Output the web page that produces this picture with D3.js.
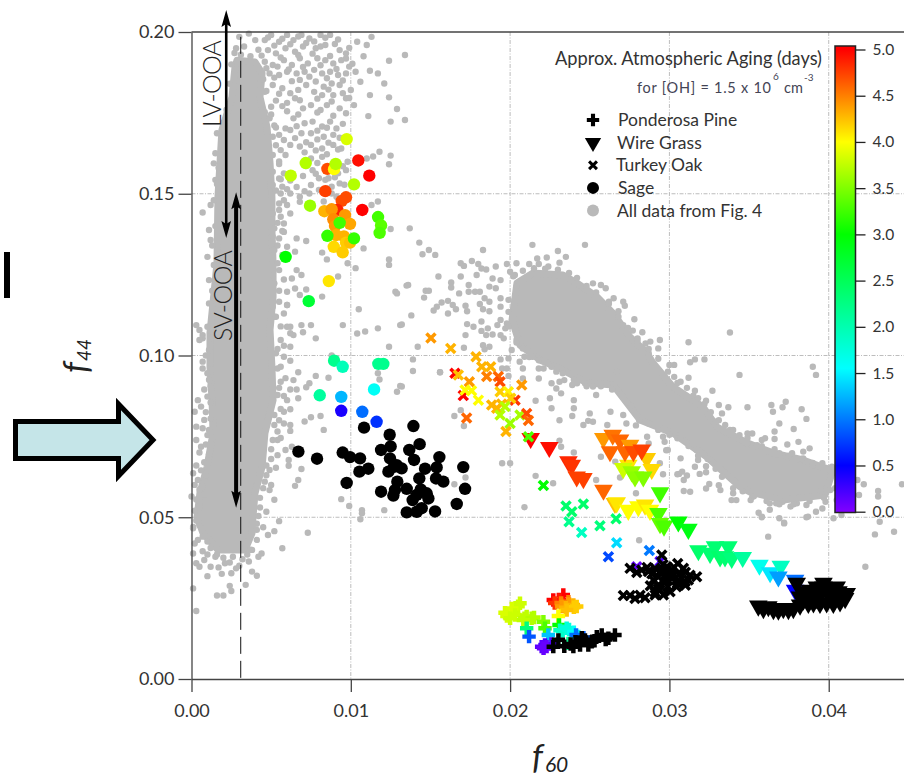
<!DOCTYPE html>
<html>
<head>
<meta charset="utf-8">
<script src="https://cdn.jsdelivr.net/npm/d3@7"></script>
<style>
  body { margin: 0; background: #fff; }
  svg { display: block; }
  text { font-family: Lato, "Open Sans", sans-serif; fill: #333; }
</style>
</head>
<body>
<div id="chart"></div>
<script>
// [f60, f44, age in days]
const sageAged = [
  [.00974,.1669,3.85],[.01047,.1603,4.95],[.01116,.1556,5],[.00717,.1595,3.7],[.00623,.1556,3.75],[.00853,.1577,4.7],
  [.00895,.1576,4],[.00905,.1592,3.7],[.0102,.1529,3.7],[.0084,.1508,4.75],[.0097,.1489,4.7],[.00943,.1478,4.7],
  [.00915,.145,4.85],[.01072,.145,5],[.00834,.1446,4.3],[.00744,.1463,3.6],[.0088,.1452,4.4],[.00964,.1434,4.4],
  [.0089,.1421,4.45],[.00995,.1407,4.35],[.00901,.14,4.4],[.00907,.1372,4.3],[.00957,.1368,4.3],[.00893,.1336,4.15],
  [.0097,.1349,4.2],[.00995,.1349,4.25],[.00949,.1319,4.2],[.0093,.141,3.25],[.01171,.1428,3.25],[.0119,.1402,3.35],
  [.01181,.1379,3.3],[.00853,.137,3.2],[.0102,.1362,3.2],[.00862,.123,4.1],[.00591,.1305,3],[.00736,.1168,2.7],
  [.00895,.0984,2.2],[.00949,.0965,1.95],[.01173,.0974,2.2],[.01204,.0974,2.2],[.01146,.0895,1.6],[.00805,.0877,2.1],
  [.0094,.0872,1.25],[.0094,.0829,.4],[.01072,.0826,.95],[.01162,.0795,.7]
];
const sageFresh = [
  [.01083,.0777],[.01393,.0782],[.01244,.0755],[.0125,.0719],[.0119,.0708],[.01432,.0726],[.01367,.0708],[.00949,.07],
  [.00671,.0703],[.00788,.0681],[.00995,.0686],[.01058,.0682],[.01556,.0686],[.01397,.0677],[.01246,.0682],[.01271,.0656],
  [.01319,.0651],[.01236,.0641],[.0111,.065],[.01054,.0641],[.01466,.065],[.01539,.0654],[.01706,.0655],[.01535,.062],
  [.01581,.061],[.0143,.062],[.01292,.061],[.00974,.0606],[.0119,.0579],[.01277,.0584],[.01267,.0567],[.01351,.0588],
  [.01439,.0586],[.01717,.0588],[.01414,.0569],[.01487,.0558],[.01388,.0553],[.01665,.0541],[.01445,.0528],[.01351,.0515],
  [.01414,.0517],[.01529,.0518],[.01476,.0574],[.01288,.0661]
];
const oakAged = [
  [.01503,.1054,4.4],[.01627,.1022,4.3],[.01786,.0996,4.3],[.01822,.0965,4.3],[.01878,.0965,4.3],[.01853,.0935,4.5],
  [.01926,.0935,4.6],[.01937,.0919,4.7],[.01654,.0945,5],[.01675,.094,4.25],[.01744,.0919,4.4],[.01706,.0876,5],
  [.01717,.0893,4],[.01758,.0891,4],[.01801,.0862,4],[.02073,.0909,4.4],[.01937,.0888,4.2],[.01989,.0888,4.05],
  [.02031,.0862,4.8],[.02004,.0868,4.2],[.01884,.0847,4.3],[.01947,.085,4.3],[.01916,.0837,4.3],[.01968,.0842,3.7],
  [.01937,.0816,3.7],[.02062,.0816,3.65],[.02,.079,3.6],[.02104,.0821,4.7],[.02115,.0799,4.6],[.01727,.0807,4.6],
  [.01974,.0765,4.3],[.02209,.0598,3],[.02351,.0535,2.4],[.0246,.0541,2.4],[.02387,.0517,2.4],[.0237,.0486,2.2],
  [.02449,.0453,1.9],[.02564,.0474,2.3],[.02665,.0495,2.4],[.02669,.0421,1.4],[.02617,.0378,.8],[.02874,.0397,1],
  [.02795,.0347,.1],[.02941,.0363,.2],[.02115,.0749,3.3]
];
const oakFresh = [
  [.02711,.0258],[.02753,.0258],[.02784,.0249],[.02816,.0259],[.02847,.0251],[.02753,.0342],[.02795,.0329],[.02826,.0337],
  [.02868,.0332],[.0291,.0342],[.02952,.0383],[.02941,.0332],[.02983,.0347],[.03014,.0337],[.03052,.0357],[.03088,.0342],
  [.0313,.0321],[.03171,.0316],[.03098,.0301],[.03056,.0306],[.03014,.0311],[.02973,.0301],[.02931,.0291],[.0291,.026],
  [.02962,.026],[.03004,.027],[.03045,.0285],[.03119,.0306],[.02983,.0321],[.02899,.0306],[.02941,.0275],
  [.0286,.0345],[.0289,.0325],[.0298,.0335],[.0302,.0325],[.0306,.0322],[.031,.033],[.0298,.031],[.0293,.0315],
  [.0305,.0296],[.0293,.0278],[.0299,.0285],[.031,.029],[.0288,.0288],[.0303,.0345],[.0296,.0354],[.0291,.0268]
];
const grassAged = [
  [.02129,.0744,5],[.02246,.0716,4.95],[.02366,.0672,4.85],[.02387,.0661,4.8],[.02418,.0625,4.75],[.0246,.062,4.75],
  [.02586,.0584,4.6],[.02658,.0543,4.25],[.02669,.0545,4.1],[.02742,.0522,4],[.02805,.0533,4],[.02847,.0538,4.1],
  [.02878,.0522,4],[.02585,.0744,4.4],[.02644,.0754,4.55],[.0269,.0739,4.6],[.02753,.0723,4.4],[.02627,.0703,4.6],
  [.02858,.0682,4.2],[.02889,.0648,4.15],[.02742,.0661,4.1],[.0271,.0651,3.8],[.02763,.0641,3.6],[.02784,.0625,3.55],
  [.02836,.0625,3.5],[.02721,.0703,4.6],[.02774,.0703,4.7],[.02826,.0708,4.75],
  [.02941,.0576,3.25],[.02931,.0512,3.3],[.02941,.0481,3.4],[.02966,.0473,3.3],[.03056,.0486,3],[.03119,.0463,2.9],
  [.03182,.0397,2.4],[.03255,.0389,2.35],[.03286,.0409,2.35],[.03318,.0378,2.4],[.0337,.0409,2.35],[.03349,.0378,2.35],
  [.03391,.0373,2.3],[.0346,.0376,2.1],[.03565,.0352,1.65],[.03632,.0329,1.45],[.03699,.0349,1.9],[.03684,.0316,1.15],
  [.03789,.0306,.95],[.03789,.0275,.5]
];
const grassFresh = [
  [.03558,.0226],[.0359,.0218],[.03621,.0224],[.03653,.0215],[.03684,.0213],[.03715,.0218],[.03747,.0215],[.03778,.0218],
  [.0382,.0229],[.03841,.0244],[.03872,.0234],[.03904,.0236],[.03945,.0234],[.03987,.0236],[.04029,.0234],[.04071,.0239],
  [.04113,.0265],[.04103,.0249],[.04061,.027],[.04008,.0275],[.03967,.0285],[.03925,.0285],[.03883,.0275],[.03841,.027],
  [.03799,.0296],[.0382,.0254],[.03945,.026],[.04008,.0255],[.0405,.0285],[.03872,.0254],[.03904,.027],[.03967,.0296],[.03925,.0249]
];
const pineAged = [
  [.02271,.0244,5],[.02334,.026,5],[.0231,.0244,4.9],[.0228,.0235,4.8],[.0232,.0235,4.5],[.02366,.0239,4.5],[.0237,.0232,4.4],
  [.02324,.0224,4.4],[.0235,.022,4.3],[.02397,.0229,4.3],[.024,.0222,4.2],[.02418,.0224,4.2],[.02355,.0213,4.25],[.02303,.0195,4],
  [.02062,.0234,3.8],[.0205,.0225,3.8],[.0201,.0218,3.85],[.01968,.0205,3.85],[.0198,.0195,3.85],[.02,.0188,3.8],[.02031,.0198,3.8],
  [.0209,.0188,3.75],[.0215,.019,3.7],[.02104,.0193,3.75],[.02135,.0188,3.7],[.02083,.0182,3.75],[.02209,.0177,3.5],
  [.02219,.0157,3.3],[.02307,.0167,3],[.02104,.0157,2.3],[.02313,.0151,1.9],[.0233,.0148,1.85],[.02355,.0157,1.75],[.0237,.0153,1.75],
  [.024,.0145,1.6],[.0246,.0128,.9],[.02119,.0131,.85],[.02414,.0136,.95],[.0224,.0136,1.3],[.02366,.011,2.2],
  [.02219,.0105,.25],[.0226,.0108,.2],[.02198,.01,.15],[.02229,.01,.1],[.0221,.0095,.1]
];
const pineFresh = [
  [.02271,.01],[.02303,.0121],[.02397,.01],[.02439,.0105],[.0247,.0121],[.02512,.0115],[.02544,.0131],[.02575,.0136],
  [.02617,.0126],[.02658,.0136],[.02491,.0105],[.0241,.0115],[.0253,.0118],[.026,.0122],[.0245,.0128],[.0238,.0108],[.0234,.0101]
];

// solid grey masses where the dots of fig. 4 overlap completely
const denseLeft = [
  [.00286,.1913],[.00399,.1907],[.00443,.1873],[.0043,.1799],[.00474,.1706],[.00493,.1595],[.00505,.149],[.00505,.1388],
  [.00512,.1286],[.00512,.1181],[.00493,.1079],[.00505,.0964],[.00512,.0862],[.00461,.076],[.00443,.0655],[.00399,.0575],
  [.00386,.0501],[.0038,.0451],[.00336,.0399],[.00166,.0399],[.00072,.0451],[.00035,.0501],[.00053,.0575],[.00097,.0655],
  [.00135,.076],[.00129,.0862],[.00116,.0964],[.00116,.107],[.0016,.1286],[.00166,.149],[.00191,.1697],[.00254,.1799],[.00273,.1892]
];
const denseRight = [
  [.02043,.1224],[.02144,.1255],[.02332,.1249],[.0242,.1224],[.02546,.1181],[.02646,.1131],[.02753,.1057],[.02859,.1008],
  [.02897,.0977],[.03023,.0903],[.03211,.0841],[.03299,.0779],[.03487,.073],[.0365,.0699],[.03839,.0677],[.03958,.0655],
  [.04027,.0646],[.03977,.0569],[.03714,.0553],[.03507,.0578],[.03444,.0594],[.03236,.0686],[.03023,.076],[.02815,.0801],
  [.02646,.0909],[.02483,.0915],[.02332,.0955],[.02188,.0986],[.02062,.1032],[.02012,.111]
];
const greyUpper = [
  [.003,.1985],[.0036,.1995],[.004,.1975],[.0033,.1955],[.0042,.1945],[.0037,.1925],[.0027,.1935],
  [.0046,.1975],[.005,.1991],[.0055,.197],[.006,.1991],[.0064,.1975],[.0069,.1991],[.0074,.198],[.0081,.1991],[.0087,.1991],
  [.0048,.1944],[.0053,.1934],[.0059,.195],[.0065,.1939],[.007,.1955],[.0078,.195],[.0084,.196],[.0093,.1944],[.0097,.1934],
  [.0104,.197],[.011,.196],[.0113,.1985],[.0046,.1908],[.0051,.1898],[.0058,.1913],[.0063,.1898],[.0068,.1919],[.0073,.1903],
  [.0079,.1919],[.0084,.1913],[.0089,.1903],[.0094,.1913],[.0099,.1893],[.0124,.1911],[.0134,.1929],[.0112,.188],[.0117,.1872],
  [.0121,.1841],[.0049,.1872],[.0055,.1867],[.006,.1877],[.0066,.1872],[.0071,.1877],[.0077,.1883],[.0082,.1872],[.0087,.1877],
  [.0092,.1867],[.0097,.1872],[.0103,.1877],[.0051,.1836],[.0057,.1826],[.0062,.1811],[.0072,.1836],[.0078,.1847],[.0083,.1831],
  [.0088,.1841],[.0093,.1836],[.01,.1821],[.0068,.1852],[.0082,.1805],[.0089,.1805],[.0097,.1795],[.0102,.1774],[.0112,.1805],
  [.0124,.1798],[.0129,.1762],[.005,.1769],[.0057,.1771],[.0065,.1795],[.007,.1764],[.0075,.1774],[.0081,.1759],[.0085,.1774],
  [.0093,.1764],[.0111,.174],[.0125,.1723],[.0134,.1728],[.0064,.1733],[.0071,.1718],[.0076,.1723],[.0082,.1708],[.0087,.1723],
  [.0091,.1702],[.0049,.1733],[.0062,.1697],[.0069,.1687],[.0075,.1687],[.0083,.1676],[.0089,.1682],[.0051,.1676],[.0055,.1682],
  [.0062,.1651],[.0068,.1646],[.0075,.1651],[.0082,.164],[.0089,.1651],[.0094,.164],[.0051,.162],[.0059,.162],[.0075,.1609],
  [.0082,.1614],[.011,.1609],[.0114,.1615],[.0118,.163],[.0125,.1618],[.0124,.1591],[.0098,.1599],[.0076,.1573],[.0086,.1548],
  [.0092,.1563],[.0097,.1573],[.0051,.1568],[.0058,.1563],[.0051,.1527],[.0057,.1522],[.0075,.1527],[.008,.1548],[.0088,.1522],
  [.0093,.1532],[.0056,.1501],[.0062,.1501],[.0068,.1491],[.0074,.1501],[.008,.1512],[.0088,.1501],[.0091,.1491],[.0055,.147],
  [.006,.1465],[.0068,.1475],[.0083,.1476],[.0117,.1476],[.0113,.1465],[.0051,.1439],[.0056,.1429],[.0052,.1393],[.0058,.1408],
  [.0051,.1367],[.0055,.1362],[.0066,.1362],[.0072,.1354],[.0125,.1391],[.0137,.1393],[.0052,.1326],[.0057,.1311],[.0065,.1321],
  [.0085,.1297],[.0082,.1318],[.0108,.1331],[.0124,.1297],[.0124,.128],[.0098,.1285],[.0103,.127],[.0051,.1249],[.0055,.1264],
  [.0066,.1264],[.0063,.1238],[.0069,.1249],[.0092,.1244],[.006,.1197],[.0065,.1207],[.0068,.1187],[.0072,.1204],[.0082,.1182],
  [.0128,.1197],[.0129,.1192],[.0135,.1216],[.0052,.1223],[.0055,.1166],[.006,.1156],[.0105,.1143],[.0051,.1151],[.0052,.112],
  [.0062,.1089],[.0069,.1094],[.0075,.1094],[.0078,.1053],[.0095,.1094],[.0104,.1068],[.0109,.1074],[.0117,.1084],[.0131,.1094],[.0124,.1027],
  [.0003,.1094],[.0007,.1063],[.0012,.1465],[.0007,.1442],[.0011,.1388],[.0012,.1357],[.001,.1305],[.0011,.1233],[.0015,.1625],
  [.0014,.1594],[.0015,.1543],[.0019,.1656],[.0016,.1687],[.0014,.1161],[.0011,.1161],[.0005,.1079],[.0012,.1074]
];
// the top of the cloud is about half covered, these fill between the dots above
const greyUpperFill = [
  [.0048,.1983],[.0057,.1979],[.0067,.1986],[.0077,.1971],[.0084,.1982],[.0092,.1977],[.0052,.1958],[.0062,.1962],[.0072,.1966],
  [.0081,.1955],[.009,.1963],[.0099,.1951],[.0044,.1927],[.0056,.1921],[.0067,.1929],[.0076,.1933],[.0087,.1926],[.0097,.1918],
  [.0108,.1925],[.0047,.1888],[.0054,.1893],[.0061,.1884],[.007,.1892],[.0081,.1897],[.0091,.1886],[.0101,.1902],[.0045,.1854],
  [.0052,.1859],[.0063,.1848],[.0074,.1862],[.0085,.1857],[.0095,.185],[.0106,.1846],[.0047,.1818],[.0055,.1809],[.0067,.1821],
  [.0077,.1815],[.0086,.1822],[.0095,.1811],[.0053,.1788],[.006,.1781],[.0068,.1789],[.0079,.1794],[.0088,.1785],[.0099,.1796],
  [.0046,.1752],[.006,.1755],[.0067,.1745],[.0079,.1751],[.0089,.1741],[.0097,.1749],[.0052,.1711],[.0059,.1702],[.0066,.1709],
  [.0079,.1695],[.0085,.1704],[.0095,.1716],[.0058,.1666],[.0065,.1672],[.0072,.1659],[.0079,.1668],[.0086,.1658],[.0093,.1673],
  [.0056,.1635],[.0071,.1628],[.0078,.1634],[.0085,.1622],[.0092,.1637],[.0055,.1592],[.0072,.1586],[.0079,.1595],[.0085,.1581],
  [.009,.1598],[.0095,.1585],[.0055,.1547],[.0062,.1541],[.007,.1555],[.0078,.1562],[.0084,.1543],[.009,.1551],[.006,.1514],
  [.0066,.1521],[.0071,.1508],[.0085,.1516],[.0096,.1528],[.0062,.1439],[.0058,.1382],[.006,.1336]
];
const greyLower = [
  [.0053,.112],[.006,.1156],[.0062,.1069],[.0064,.1063],[.006,.1089],[.0056,.1048],[.0062,.1027],[.0053,.1007],[.0058,.0996],
  [.0062,.0984],[.0054,.096],[.0067,.0948],[.0056,.0919],[.0064,.0924],[.0078,.0937],[.0074,.0914],[.0072,.0902],[.0062,.0895],
  [.0066,.0895],[.0054,.0878],[.006,.0862],[.0067,.0868],[.0086,.0931],[.0058,.0826],[.0062,.0834],[.0052,.0816],[.0075,.0809],
  [.0081,.0813],[.0071,.0796],[.0083,.077],[.0058,.079],[.0062,.0785],[.0054,.0765],[.0062,.0767],[.0051,.0739],[.0054,.0739],
  [.0063,.0718],[.0059,.0708],[.0054,.0692],[.0061,.0677],[.0061,.0659],[.0069,.0649],[.0049,.0646],[.0053,.0653],[.0067,.0615],
  [.0065,.0597],[.005,.06],[.0052,.0554],[.0046,.061],[.0049,.0584],[.0094,.0556],[.0099,.0535],[.0107,.0522],[.0107,.0512],
  [.0106,.0494],[.0121,.0522],[.0073,.0452],[.0055,.0488],[.0052,.0457],[.0047,.0517],[.0042,.0504],[.0045,.0469],[.0048,.0445],
  [.0057,.0404],[.0041,.0461],[.0044,.0388],[.0042,.0378],[.0038,.0399],[.0036,.0363],[.0038,.0332],[.0041,.0319],[.0034,.0291],
  [.0025,.0327],[.0028,.0342],[.0019,.0325],[.0021,.0358],[.0026,.0378],[.0015,.0378],[.0008,.0368],[.0012,.0347],[.001,.0318],
  [.0005,.0347],[.0003,.0358],[.0024,.0288],[.0025,.0272],[.0016,.0258],[.002,.0258],[.0003,.021],[.0001,.028],[.0001,.0388],
  [.0002,.0419],[.0001,.0466],[0,.0564],[.0001,.0636],[.0004,.0615],[.0007,.0595],[.0003,.0739],[.0006,.0718],[.0003,.078],
  [.001,.0754],[.0008,.0801],[.0004,.0862],[.001,.0873],[.0006,.0842],[.0002,.0826],[.0011,.0925],[.0007,.096],[.0007,.0981],
  [.0011,.1017],[.0007,.1053],[.0005,.1048],[.001,.1089],[.007,.1072],[.0088,.1],[.0117,.0945],[.0118,.0926],[.0129,.0888],[.0131,.0906]
];
// dots that roughen the edges of the left band
const greyLeftEdge = [
  [.0012,.1035],[.0009,.1],[.0012,.0975],[.001,.0945],[.0012,.0905],[.0008,.0895],[.0012,.0855],[.0009,.0825],[.0012,.0805],
  [.0007,.0775],[.0011,.077],[.0013,.0745],[.0009,.0725],[.0005,.07],[.0011,.0695],[.0008,.067],[.0003,.066],[.0006,.0645],
  [.0009,.063],[.0002,.06],[.0005,.0585],[.0008,.057],[.0003,.0555],[.0005,.0535],[.0002,.052],[.0003,.049],[.0001,.047],
  [.0005,.0475],[.0007,.044],[.0004,.043],[.001,.0425],[.0012,.0405],[.0007,.0395],[.0016,.0385],[.002,.0375],[.0024,.036],
  [.0032,.037],[.003,.035],[.0017,.0345],[.001,.0385],[.0035,.0385],
  [.0046,.1815],[.005,.1745],[.0053,.1705],[.0053,.165],[.0055,.16],[.0056,.1545],[.0053,.151],[.0058,.148],[.0055,.145],
  [.0054,.141],[.0057,.1385],[.0054,.134],[.0058,.13],[.0054,.1285],[.0058,.1235],[.0055,.12],[.0058,.113],[.0056,.109],
  [.0054,.102],[.0058,.103],[.0056,.0965],[.0059,.093],[.0055,.09],[.0058,.0875],[.0056,.0835],[.0055,.08],[.0052,.0785],
  [.0056,.0745],[.005,.071],[.005,.068],[.0047,.066],[.0047,.063],[.0045,.059],[.0043,.056],[.0043,.053],[.0041,.048],[.0041,.043],[.0037,.04],
  [.0013,.115],[.0013,.12],[.0014,.128],[.0013,.134],[.0015,.14],[.0014,.148],[.0016,.153],[.0017,.158],[.0018,.162],
  [.002,.172],[.0022,.176],[.0024,.184],[.0025,.19],[.0028,.195],[.0031,.193]
];
const greyMiddle = [
  [.0143,.1349],[.0145,.1313],[.0149,.1326],[.0153,.1311],[.0136,.1218],[.0155,.1244],[.0147,.12],[.0149,.12],[.0146,.1179],
  [.0163,.1226],[.0163,.121],[.0168,.1192],[.0157,.1164],[.0154,.1151],[.0152,.1139],[.0161,.1169],[.0164,.1156],[.0166,.1143],
  [.0161,.113],[.0138,.1124],[.0132,.1096],[.0169,.1285],[.0171,.1277],[.0169,.1244],[.0176,.1292],[.018,.1283],[.0182,.1269],
  [.0179,.1249],[.0185,.1266],[.0191,.1275],[.0189,.1238],[.0183,.1326],[.0198,.1283],[.0214,.1342],[.0247,.1342],[.023,.1323],
  [.0235,.1305],[.0223,.1303],[.0217,.13],[.0231,.1287],[.0204,.1285],[.0212,.1283],[.0218,.1283],[.0224,.1275],[.02,.1259],
  [.0203,.1249],[.0174,.1218],[.0174,.1197],[.0178,.1197],[.0181,.1197],[.0187,.1213],[.0184,.1177],[.0187,.1166],[.0194,.1233],
  [.0191,.1208],[.0181,.1159],[.0172,.1154],[.0173,.1137],[.0183,.1143],[.0187,.1137],[.0194,.1151],[.0199,.1172],[.0194,.1177],
  [.0173,.1097],[.0177,.1089],[.0182,.1105],[.0182,.1076],[.0186,.1084],[.0192,.1094],[.0194,.111],[.0198,.1099],[.0172,.1063],
  [.0185,.1063],[.0189,.1065],[.0194,.1063],[.0197,.1084],[.0196,.1053],[.0142,.1027],[.0171,.1024],[.0183,.1032],[.0184,.1019],
  [.0187,.1027],[.0139,.0988],[.0139,.0952],[.0156,.0948],[.0132,.0904],[.0194,.0988],[.0199,.0991],[.0201,.1017],[.0206,.0981],
  [.0195,.096],[.0198,.096],[.0199,.0937],[.0208,.096],[.0208,.0929],[.0218,.096],[.0218,.0929],[.0204,.1048],[.0208,.1022],
  [.0209,.0996],[.0214,.0996],[.0221,.096],[.0226,.0914],[.0231,.0919],[.0229,.0898],[.0234,.0924],[.0239,.0909],[.0242,.0914],
  [.0232,.0883],[.0247,.0914],[.0254,.0878],[.0252,.0904],[.0224,.0976],[.0229,.095],[.0261,.0914],[.0267,.095],[.0204,.1213],
  [.0257,.1218],[.026,.1208],[.0252,.1223],[.0265,.1177],[.0271,.1166],[.0272,.1154],[.0262,.1166],[.0268,.1137],[.0278,.1112],
  [.0271,.1094],[.0277,.1077],[.0283,.1072],[.028,.1053],[.0288,.1043],[.0285,.1037],[.0294,.1048],[.0293,.1022],[.0287,.1007],
  [.0216,.086],[.0225,.0868],[.0226,.0837],[.024,.0862],[.024,.0837],[.0239,.0813],[.0231,.08],[.025,.0821],[.0249,.0798],
  [.0246,.0785],[.0252,.0795],[.0263,.0826],[.0261,.0785],[.0271,.0816],[.0273,.079],[.0279,.0784],[.0286,.0749],[.0287,.0728],
  [.0298,.0707],[.0257,.0687],[.0266,.0672],[.0231,.0737],[.0232,.0718],[.024,.07],[.0195,.0667],[.02,.0667],[.0216,.0628],
  [.0227,.0605],[.0254,.0615],[.0269,.0623],[.0279,.0574],[.0294,.0667],[.0296,.0633],[.0305,.0633],[.0209,.0531],[.0281,.0429],
  [.0172,.0623],[.0165,.0602],[.0171,.0782],[.0169,.0831],[.0165,.0813],[.0156,.0948]
];
const greyRight = [
  [.0338,.1071],[.0312,.1041],[.0322,.0988],[.0316,.0988],[.0313,.0979],[.0303,.0971],[.03,.0971],[.0344,.094],[.039,.0965],
  [.0392,.094],[.0312,.0931],[.0303,.0934],[.0307,.0919],[.0327,.0891],[.0316,.0891],[.0315,.0876],[.0323,.086],[.0331,.0847],
  [.0337,.084],[.0349,.084],[.0333,.0821],[.0364,.0847],[.0373,.0857],[.0371,.084],[.0365,.0826],[.0383,.0834],[.0386,.0804],
  [.0369,.079],[.0378,.0773],[.0366,.0765],[.0366,.0742],[.036,.0744],[.0358,.0739],[.0381,.0733],[.0374,.0725],[.0388,.0713],
  [.0384,.0703],[.0329,.0795],[.0335,.0785],[.0338,.077],[.0349,.0759],[.0352,.0759],[.0344,.0754],[.0355,.0723],[.0349,.0728],
  [.0369,.0698],[.0377,.0698],[.0384,.0682],[.039,.0661],[.0396,.0667],[.0402,.0656],[.0402,.0635],
  [.0371,.0548],[.0367,.0543],[.0363,.0543],[.0363,.0523],[.0356,.0514],[.0358,.05],[.0369,.0497],[.0372,.0483],[.0376,.0533],
  [.0386,.05],[.038,.0543],[.0386,.0538],[.0392,.0517],[.0396,.0527],[.0398,.0548],[.0395,.0584],[.0401,.0584],[.0403,.0497],
  [.0408,.0507],[.0405,.0553],[.0352,.0563],[.0351,.0553],[.0339,.0553],[.0342,.0553],[.034,.0574],[.0332,.0584],[.0331,.0599],
  [.0325,.0603],[.0323,.0589],[.0313,.0579],[.0309,.0581],[.0309,.0615],[.0306,.0634],[.0308,.0641],[.0311,.0629],[.0319,.0634],
  [.0323,.0639],[.0316,.0656],[.0323,.0658],[.0318,.0677],[.0307,.0682],[.0317,.0708],[.0299,.0708],[.0297,.0733],[.0305,.0744],[.0296,.0749],
  [.0418,.0615],[.0422,.0602],[.0431,.0581],[.0431,.0564],[.0419,.0569],[.0432,.0486],[.0446,.0602],[.0415,.0543],[.0423,.0347],
  [.0429,.0447],[.0441,.0455],[.0362,.044],[.0372,.0481],[.0358,.0502],[.0387,.0502]
];
// edge dots of the right band, along its top then along its underside
const greyRightEdge = [
  [.0202,.1245],[.0208,.1262],[.0215,.127],[.0222,.1268],[.023,.1265],[.0237,.1255],[.0242,.124],[.0248,.1215],[.0254,.1195],
  [.0262,.116],[.0268,.112],[.0274,.1085],[.028,.1045],[.0287,.102],[.0293,.099],[.0299,.095],[.0305,.0915],[.0311,.09],
  [.0318,.0868],[.0322,.085],[.0326,.0825],[.0331,.08],[.034,.077],[.0349,.0745],[.0358,.072],[.0366,.071],[.0375,.069],[.0383,.068],[.039,.0668],
  [.0199,.1135],[.0199,.109],[.0204,.104],[.0212,.0995],[.0218,.0985],[.0226,.0965],[.0233,.0945],[.024,.0925],[.0248,.0905],
  [.0257,.0905],[.0264,.0895],[.027,.088],[.0276,.0845],[.0281,.08],[.0287,.079],[.0293,.077],[.03,.0755],[.0307,.0745],
  [.0312,.072],[.0318,.069],[.0324,.068],[.0329,.065],[.0333,.0625],[.034,.059],[.0346,.058],[.0353,.0565],[.0361,.055],
  [.0369,.054],[.0378,.054],[.0388,.055],[.0397,.056],[.0404,.059],[.041,.0625]
];

const xTicks = [0, .01, .02, .03, .04];
const yTicks = [0, .05, .1, .15, .2];
const ageTicks = [0, .5, 1, 1.5, 2, 2.5, 3, 3.5, 4, 4.5, 5];
const ageStops = [0, .5, 1.55, 3, 4, 5];
const ageColors = ['#8000ff', '#0000ff', '#00ffff', '#00ff00', '#ffff00', '#ff0000'];
const legendNames = ['Ponderosa Pine', 'Wire Grass', 'Turkey Oak', 'Sage', 'All data from Fig. 4'];

const width = 904, height = 776;
const grey = '#b9b9b9';

const svg = d3.select('#chart').append('svg').attr('width', width).attr('height', height);

const xScale = d3.scaleLinear().domain([0, .0447]).range([191.5, 903.6]);
const yScale = d3.scaleLinear().domain([0, .2]).range([679, 32]);
const ageScale = d3.scaleLinear().domain([0, 5]).range([511.7, 49.5]);
const ageColor = d3.scaleLinear().domain(ageStops).range(ageColors);

// grid
svg.append('g').selectAll('line').data(xTicks.slice(1)).join('line')
    .attr('x1', d => xScale(d)).attr('x2', d => xScale(d)).attr('y1', yScale(.2)).attr('y2', yScale(0));
svg.append('g').selectAll('line').data(yTicks.slice(1, 4)).join('line')
    .attr('x1', xScale(0)).attr('x2', width).attr('y1', d => yScale(d)).attr('y2', d => yScale(d));
svg.selectAll('g line').attr('stroke', '#bdbdbd').attr('stroke-dasharray', '4 1.5 1 1.5');

// all data from fig. 4
const area = d3.line().x(d => xScale(d[0])).y(d => yScale(d[1])).curve(d3.curveLinearClosed);
[denseLeft, denseRight].forEach(poly => {
  svg.append('path').attr('d', area(poly)).attr('fill', grey)
      .attr('stroke', grey).attr('stroke-width', 7).attr('stroke-linejoin', 'round');
});
svg.append('g').selectAll('circle')
    .data([...greyUpper, ...greyUpperFill, ...greyLower, ...greyLeftEdge, ...greyMiddle, ...greyRight, ...greyRightEdge]).join('circle')
    .attr('cx', d => xScale(d[0])).attr('cy', d => yScale(d[1])).attr('r', 3.2).attr('fill', grey);

// axes
const xAxis = d3.axisBottom(xScale).tickValues(xTicks).tickFormat(d3.format('.2f')).tickSize(13).tickSizeOuter(0).tickPadding(12);
const yAxis = d3.axisLeft(yScale).tickValues(yTicks).tickFormat(d3.format('.2f')).tickSize(13).tickSizeOuter(0).tickPadding(4);
const xAxisG = svg.append('g').attr('transform', `translate(0,${yScale(0)})`).call(xAxis);
const yAxisG = svg.append('g').attr('transform', `translate(${xScale(0)},0)`).call(yAxis);
svg.selectAll('.domain, .tick line').attr('stroke', '#444').attr('stroke-width', 1.3);
svg.selectAll('.tick text').attr('font-size', 18).attr('font-family', 'Lato').attr('fill', '#333');
svg.append('line').attr('x1', xScale(0)).attr('x2', width).attr('y1', yScale(.2)).attr('y2', yScale(.2))
    .attr('stroke', '#444').attr('stroke-width', 1.3);

// the four fuels
const crossPath = d3.symbol(d3.symbolCross, 100)();
const trianglePath = d3.symbol(d3.symbolTriangle, 150)();
const timesPath = d3.symbol(d3.symbolTimes, 55)();
const place = d => `translate(${xScale(d[0])},${yScale(d[1])})`;

function drawPine(data, color) {
  svg.append('g').selectAll('path').data(data).join('path')
      .attr('d', crossPath).attr('transform', place).attr('fill', color);
}
function drawGrass(data, color) {
  svg.append('g').selectAll('path').data(data).join('path')
      .attr('d', trianglePath).attr('transform', d => place(d) + ' rotate(180)').attr('fill', color);
}
function drawOak(data, color) {
  svg.append('g').selectAll('path').data(data).join('path')
      .attr('d', timesPath).attr('transform', place).attr('fill', 'none').attr('stroke', color).attr('stroke-width', 3.5);
}
function drawSage(data, color) {
  svg.append('g').selectAll('circle').data(data).join('circle')
      .attr('cx', d => xScale(d[0])).attr('cy', d => yScale(d[1])).attr('r', 6.2).attr('fill', color);
}
const byAge = d => ageColor(d[2]);
drawPine(pineAged, byAge);
drawPine(pineFresh, '#000');
drawGrass(grassAged, byAge);
drawGrass(grassFresh, '#000');
drawOak(oakAged, byAge);
drawOak(oakFresh, '#000');
drawSage(sageAged, byAge);
drawSage(sageFresh, '#000');

// f60 = 0.003 dashed line and the LV / SV ranges
svg.append('line').attr('x1', xScale(.00309)).attr('x2', xScale(.00309)).attr('y1', yScale(.1985)).attr('y2', yScale(0))
    .attr('stroke', '#111').attr('stroke-width', 1).attr('stroke-dasharray', '17 7');

function rangeArrow(x, top, bottom, strokeW) {
  const px = xScale(x), y1 = yScale(top), y2 = yScale(bottom);
  svg.append('line').attr('x1', px).attr('x2', px).attr('y1', y1 + 8).attr('y2', y2 - 8)
      .attr('stroke', '#000').attr('stroke-width', strokeW);
  const head = 'M0,0L4.8,17L0,14L-4.8,17Z';
  svg.append('path').attr('d', head).attr('transform', `translate(${px},${y1})`).attr('fill', '#000');
  svg.append('path').attr('d', head).attr('transform', `translate(${px},${y2}) scale(1,-1)`).attr('fill', '#000');
}
rangeArrow(.00218, .2068, .1363, 2.6);
rangeArrow(.0028, .1505, .0529, 4);

svg.append('text').attr('transform', 'translate(221,127) rotate(-90)').attr('font-size', 25).attr('font-weight', 300)
    .style('fill', '#222').attr('textLength', 87).text('LV-OOA');
svg.append('text').attr('transform', 'translate(232,341) rotate(-90)').attr('font-size', 25).attr('font-weight', 300)
    .style('fill', '#222').attr('textLength', 91).text('SV-OOA');

// axis titles
const xTitle = svg.append('text').attr('x', 532).attr('y', 769).attr('font-style', 'italic').style('fill', '#222');
xTitle.append('tspan').attr('font-size', 34).text('f');
xTitle.append('tspan').attr('font-size', 21).attr('dy', 3).attr('dx', 2).text('60');
const yTitle = svg.append('text').attr('transform', 'translate(88,373) rotate(-90)').attr('font-style', 'italic').style('fill', '#222');
yTitle.append('tspan').attr('font-size', 34).text('f');
yTitle.append('tspan').attr('font-size', 19).attr('dy', 3).attr('dx', 1).text('44');

// colour scale
const gradient = svg.append('defs').append('linearGradient').attr('id', 'ageGradient')
    .attr('gradientUnits', 'userSpaceOnUse')
    .attr('x1', 0).attr('x2', 0).attr('y1', ageScale(0)).attr('y2', ageScale(5));
gradient.selectAll('stop').data(ageStops).join('stop')
    .attr('offset', d => d / 5)
    .attr('stop-color', (d, i) => ageColors[i]);
svg.append('rect').attr('x', 835).attr('y', 46).attr('width', 20.5).attr('height', 466.5)
    .attr('fill', 'url(#ageGradient)').attr('stroke', '#222').attr('stroke-width', 1.5);
const ageAxis = d3.axisRight(ageScale).tickValues(ageTicks).tickFormat(d3.format('.1f')).tickSize(10).tickSizeOuter(0).tickPadding(7);
const ageG = svg.append('g').attr('transform', 'translate(855.5,0)').call(ageAxis);
ageG.select('.domain').remove();
ageG.selectAll('line').attr('stroke', '#222').attr('stroke-width', 1.3);
ageG.selectAll('text').attr('font-size', 15.5).attr('font-family', 'Lato').attr('fill', '#333');

// legend
svg.append('text').attr('x', 555).attr('y', 65).attr('font-size', 19)
    .attr('textLength', 267).attr('lengthAdjust', 'spacingAndGlyphs').text('Approx. Atmospheric Aging (days)');
const oh = svg.append('g');
oh.append('text').attr('x', 637).attr('y', 93).attr('font-size', 14.5)
    .attr('textLength', 134).style('fill', '#445').text('for [OH] = 1.5 x 10');
oh.append('text').attr('x', 773).attr('y', 80).attr('font-size', 10).style('fill', '#445').text('6');
oh.append('text').attr('x', 784).attr('y', 93).attr('font-size', 14.5).style('fill', '#445').text('cm');
oh.append('text').attr('x', 804).attr('y', 81).attr('font-size', 10).style('fill', '#445').text('-3');

const legendY = d3.scalePoint().domain(legendNames).range([120, 210.5]);
const legendX = d3.scaleOrdinal().domain(legendNames).range([618, 617, 616, 618, 617]);
svg.append('g').selectAll('text').data(legendNames).join('text')
    .attr('x', d => legendX(d)).attr('y', d => legendY(d) + 6).attr('font-size', 17.5).text(d => d);
svg.append('path').attr('d', d3.symbol(d3.symbolCross, 85)()).attr('transform', `translate(593,${legendY(legendNames[0])})`);
svg.append('path').attr('d', d3.symbol(d3.symbolTriangle, 115)()).attr('transform', `translate(593,${legendY(legendNames[1])}) rotate(180)`);
svg.append('path').attr('d', d3.symbol(d3.symbolTimes, 42)()).attr('transform', `translate(593,${legendY(legendNames[2])})`)
    .attr('fill', 'none').attr('stroke', '#000').attr('stroke-width', 3);
svg.append('circle').attr('cx', 593).attr('cy', legendY(legendNames[3])).attr('r', 6);
svg.append('circle').attr('cx', 593).attr('cy', legendY(legendNames[4])).attr('r', 6).attr('fill', grey);

// slide decorations left of the plot
svg.append('rect').attr('x', 4).attr('y', 252).attr('width', 6).attr('height', 46).attr('fill', '#000');
svg.append('path').attr('d', 'M15.5,421.5H118.5V404L153,440L118.5,476V458.5H15.5Z')
    .attr('fill', '#c5e5e8').attr('stroke', '#000').attr('stroke-width', 5);
</script>
</body>
</html>
